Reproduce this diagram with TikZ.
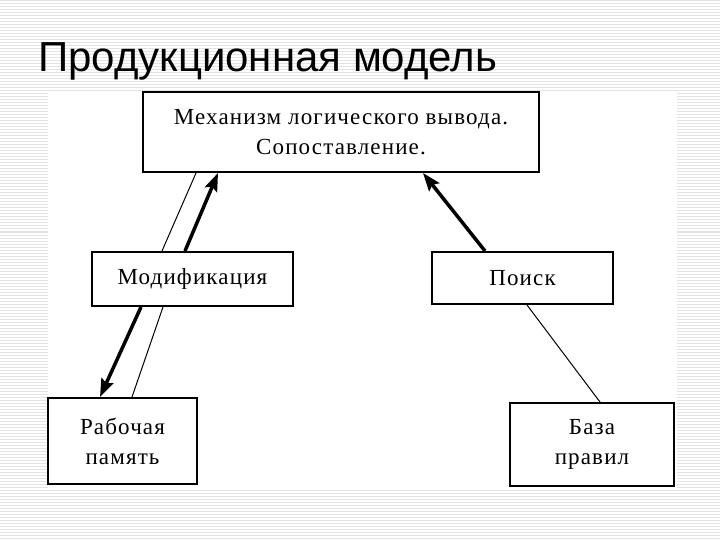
\documentclass[tikz,border=0pt]{standalone}
\usepackage{fontspec}
\setmainfont{Liberation Serif}
\newfontfamily\titlefont{Liberation Sans}
\newfontfamily\boxfont[LetterSpace=5]{Liberation Serif}
\usetikzlibrary{arrows.meta}
\tikzstyle{block} = [rectangle, draw=black, line width=2pt, fill=white, align=center, font=\boxfont\fontsize{23}{30}\selectfont]
\tikzstyle{flowarrow} = [line width=3.5pt,-{Stealth[length=18pt,width=13pt,inset=3pt]}]
\tikzstyle{flowline} = [line width=1pt]

\begin{document}
\begin{tikzpicture}[x=1pt,y=-1pt]
\useasboundingbox (0,0) rectangle (720,540);
% striped slide background
\fill[white] (0,0) rectangle (720,540);
\foreach \y in {1,4,...,540}{
\draw[gray!22,line width=1pt] (0,\y)--(720,\y);
}
\fill[white] (48,93) rectangle (677,489);

\node[anchor=base west,inner sep=0,font=\titlefont\fontsize{42}{42}\selectfont] (title) at (38,72) {Продукционная модель};

\node[block, minimum width=396pt, minimum height=80pt] (mech) at (341,132) {Механизм логического вывода.\\Сопоставление.};
\node[block, minimum width=201pt, minimum height=54pt] (mod) at (192.5,279) {Модификация};
\node[block, minimum width=181pt, minimum height=52pt] (search) at (522.5,278) {Поиск};
\node[block, minimum width=149pt, minimum height=86pt] (wmem) at (122.5,441) {Рабочая\\память};
\node[block, minimum width=164pt, minimum height=83pt] (rules) at (592,444.5) {База\\правил};

\draw[flowline] ([xshift=-145pt]mech.south) -- ([xshift=-30.5pt]mod.north);
\draw[flowarrow] ([xshift=-7.5pt]mod.north) -- ([xshift=-123pt]mech.south);
\draw[flowarrow] ([xshift=-51.5pt]mod.south) -- ([xshift=-22.5pt]wmem.north);
\draw[flowline] ([xshift=-29.5pt]mod.south) -- ([xshift=9.5pt]wmem.north);
\draw[flowarrow] ([xshift=-37.5pt]search.north) -- ([xshift=82pt]mech.south);
\draw[flowline] ([xshift=4.5pt]search.south) -- ([xshift=8pt]rules.north);

\end{tikzpicture}
\end{document}
